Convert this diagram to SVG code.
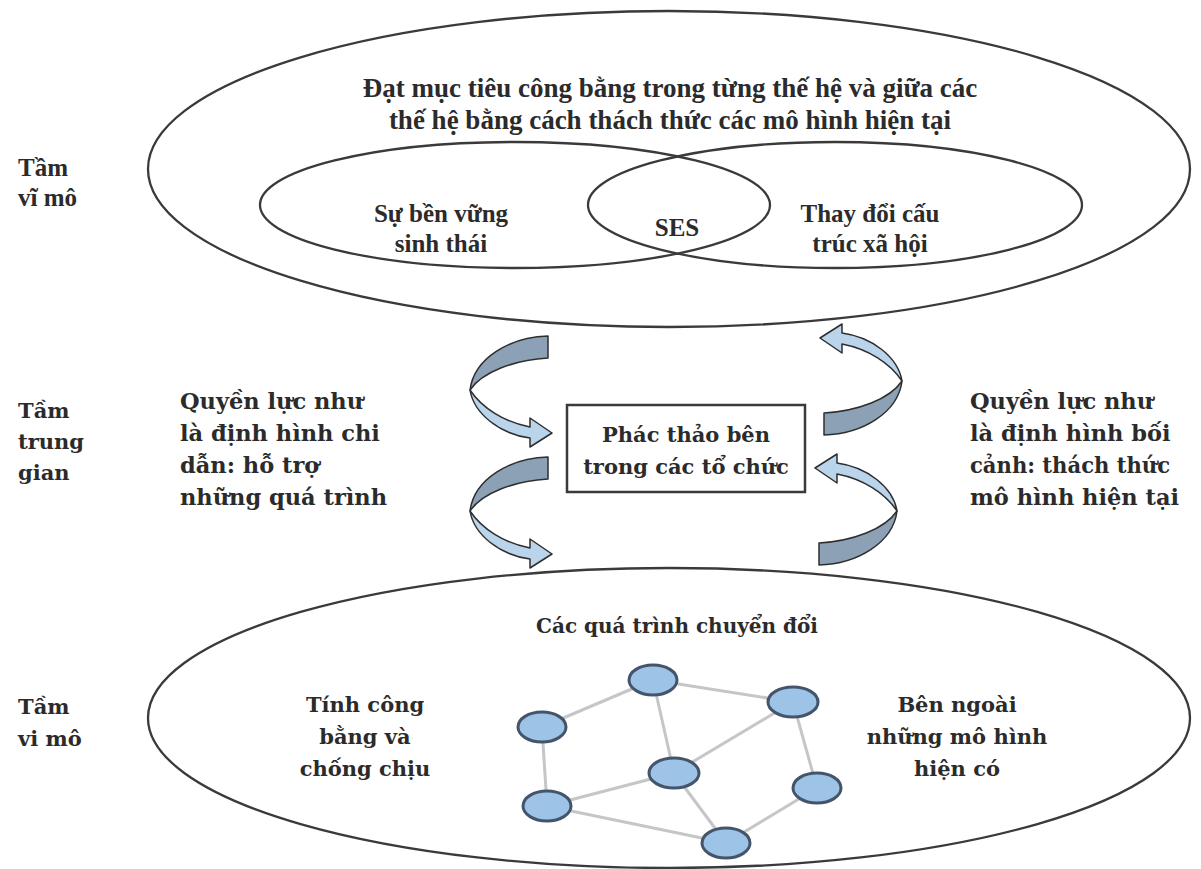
<svg xmlns="http://www.w3.org/2000/svg" width="1201" height="869" viewBox="0 0 1201 869">
<style>
.ell{fill:none;stroke:#3a3a3a;stroke-width:2.3}
.t1{font-family:"Liberation Serif",serif;font-weight:bold;font-size:27px;fill:#2b2b2b}
.t0{font-family:"Liberation Serif",serif;font-weight:bold;font-size:25px;fill:#2b2b2b}
.t2{font-family:"DejaVu Serif",serif;font-weight:bold;font-size:21px;fill:#2b2b2b}
.t3{font-family:"DejaVu Serif",serif;font-weight:bold;font-size:22.5px;fill:#2b2b2b}
.t4{font-family:"DejaVu Serif",serif;font-weight:bold;font-size:20px;fill:#2b2b2b}
.edge{stroke:#c4c6c8;stroke-width:3;fill:none}
.node{fill:#9dc3e6;stroke:#44546a;stroke-width:3}
.dark{fill:#8da1b6;stroke:#2e2e2e;stroke-width:1.5;stroke-linejoin:round}
.light{fill:#bad4ec;stroke:#2e2e2e;stroke-width:1.5;stroke-linejoin:round}
</style>
<defs>
<g id="carrow">
<path class="dark" d="M78,0 C40,1 4,22 0,54 C12,36 44,24 78,22 Z"/>
<path class="light" d="M0,54 C4,78 30,98 60,102 L60,111 L82,97 L60,82 L60,91 C34,86 12,72 0,54 Z"/>
</g>
</defs>
<rect width="1201" height="869" fill="#ffffff"/>
<g id="macro">
<ellipse class="ell" cx="669" cy="169" rx="521" ry="158"/>
<text class="t1" text-anchor="middle" x="670" y="97">Đạt mục tiêu công bằng trong từng thế hệ và giữa các</text>
<text class="t1" text-anchor="middle" x="670" y="129">thế hệ bằng cách thách thức các mô hình hiện tại</text>
</g>
<g id="eco">
<ellipse class="ell" cx="515" cy="205" rx="255" ry="63"/>
<text class="t0" text-anchor="middle" x="441" y="222">Sự bền vững</text>
<text class="t0" text-anchor="middle" x="441" y="252">sinh thái</text>
</g>
<g id="social">
<ellipse class="ell" cx="835" cy="205" rx="247" ry="63"/>
<text class="t0" text-anchor="middle" x="870" y="222">Thay đổi cấu</text>
<text class="t0" text-anchor="middle" x="870" y="252">trúc xã hội</text>
</g>
<g id="ses">
<text class="t0" text-anchor="middle" x="677" y="236">SES</text>
</g>
<g id="label-macro">
<text class="t0" x="18" y="176">Tầm</text>
<text class="t0" x="18" y="206">vĩ mô</text>
</g>
<g id="label-meso">
<text class="t2" x="18" y="418">Tầm</text>
<text class="t2" x="18" y="449">trung</text>
<text class="t2" x="18" y="480">gian</text>
</g>
<g id="label-micro">
<text class="t2" x="18" y="714">Tầm</text>
<text class="t2" x="18" y="746">vi mô</text>
</g>
<g id="left-text">
<text class="t3" x="180" y="409">Quyền lực như</text>
<text class="t3" x="180" y="441">là định hình chi</text>
<text class="t3" x="180" y="473">dẫn: hỗ trợ</text>
<text class="t3" x="180" y="505">những quá trình</text>
</g>
<g id="right-text">
<text class="t3" x="970" y="409">Quyền lực như</text>
<text class="t3" x="970" y="441">là định hình bối</text>
<text class="t3" x="970" y="473" textLength="200" lengthAdjust="spacingAndGlyphs">cảnh: thách thức</text>
<text class="t3" x="970" y="505">mô hình hiện tại</text>
</g>
<g id="box">
<rect x="567" y="405" width="238" height="87" fill="#ffffff" stroke="#3a3a3a" stroke-width="2.5"/>
<text class="t2" text-anchor="middle" x="686" y="442">Phác thảo bên</text>
<text class="t2" text-anchor="middle" x="686" y="474">trong các tổ chức</text>
</g>
<g id="arrows">
<use href="#carrow" transform="translate(470,336)"/>
<use href="#carrow" transform="translate(470,457)"/>
<use href="#carrow" transform="rotate(180,686,385.5) translate(470,336)"/>
<use href="#carrow" transform="rotate(180,683.5,511) translate(470,457)"/>
</g>
<g id="micro">
<ellipse class="ell" cx="669" cy="718" rx="521" ry="150"/>
<text class="t4" text-anchor="middle" x="677" y="633">Các quá trình chuyển đổi</text>
<text class="t2" text-anchor="middle" x="365" y="712">Tính công</text>
<text class="t2" text-anchor="middle" x="365" y="744">bằng và</text>
<text class="t2" text-anchor="middle" x="365" y="776">chống chịu</text>
<text class="t2" text-anchor="middle" x="957" y="712">Bên ngoài</text>
<text class="t2" text-anchor="middle" x="957" y="744">những mô hình</text>
<text class="t2" text-anchor="middle" x="957" y="776">hiện có</text>
</g>
<g id="network-edges">
<line class="edge" x1="653" y1="680" x2="542" y2="727"/>
<line class="edge" x1="653" y1="680" x2="793" y2="702"/>
<line class="edge" x1="653" y1="680" x2="674" y2="773"/>
<line class="edge" x1="793" y1="702" x2="674" y2="773"/>
<line class="edge" x1="793" y1="702" x2="817" y2="788"/>
<line class="edge" x1="542" y1="727" x2="547" y2="806"/>
<line class="edge" x1="674" y1="773" x2="547" y2="806"/>
<line class="edge" x1="674" y1="773" x2="726" y2="843"/>
<line class="edge" x1="547" y1="806" x2="726" y2="843"/>
<line class="edge" x1="817" y1="788" x2="726" y2="843"/>
</g>
<g id="network-nodes">
<ellipse class="node" cx="653" cy="680" rx="24" ry="15"/>
<ellipse class="node" cx="793" cy="702" rx="25" ry="15"/>
<ellipse class="node" cx="542" cy="727" rx="24" ry="15"/>
<ellipse class="node" cx="674" cy="773" rx="25" ry="15"/>
<ellipse class="node" cx="817" cy="788" rx="24" ry="15"/>
<ellipse class="node" cx="547" cy="806" rx="24" ry="15"/>
<ellipse class="node" cx="726" cy="843" rx="24" ry="15"/>
</g>
</svg>
